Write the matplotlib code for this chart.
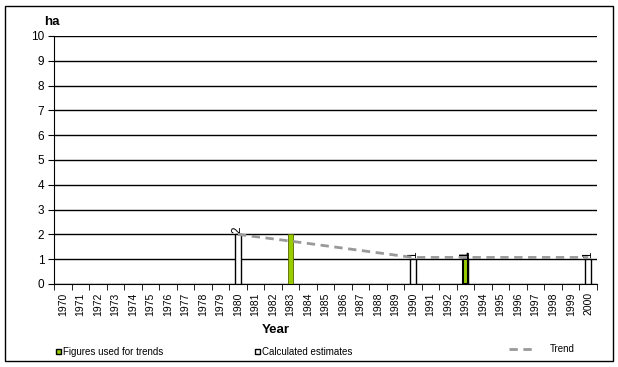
import matplotlib.pyplot as plt
from matplotlib.patches import Patch, Rectangle
from matplotlib.lines import Line2D

plt.rcParams['font.family'] = ['Liberation Sans', 'DejaVu Sans']

years = list(range(1970, 2001))
used_years = [1993, 1983]
used_values = [1, 2]
estimate_years = [1980, 1990, 1993, 2000]
estimate_values = [2, 1, 1, 1]
trend_years = [1980, 1983, 1990, 1993, 2000]
trend_values = [2.0, 1.73, 1.07, 1.07, 1.07]

GREEN = '#99cc00'
GREY = '#999999'


def idx(ys):
    return [years.index(y) for y in ys]


def main():
    fig = plt.figure(figsize=(6.18, 3.67), dpi=100)
    fig.patches.append(Rectangle((5 / 618, 6 / 367), 608 / 618, 355 / 367,
                                 transform=fig.transFigure, fill=False,
                                 edgecolor='black', linewidth=1))
    ax = fig.add_axes([54 / 618, 83 / 367, 543 / 618, 248 / 367])

    ax.set_xlim(-0.5, len(years) - 0.5)
    ax.set_ylim(0, 10)
    ax.set_yticks(range(0, 11))
    ax.yaxis.grid(True, color='black', linewidth=1)
    ax.set_axisbelow(True)
    for s in ['top', 'right']:
        ax.spines[s].set_visible(False)

    # estimates drawn first, green on top
    eb = ax.bar(idx(estimate_years), estimate_values, width=0.32,
                color='white', edgecolor='black', linewidth=1, zorder=3)
    gb = ax.bar(idx(used_years), used_values, width=0.32, color=GREEN,
                edgecolor=['black', '#556600'], linewidth=[1.5, 0.6],
                zorder=4)
    ax.bar_label(eb, rotation=90, padding=1, fontsize=8.5)
    ax.bar_label(gb, labels=[str(used_values[0]), ''], rotation=90,
                 padding=1, fontsize=8.5, fontweight='bold')

    ax.plot(idx(trend_years), trend_values, color=GREY, linestyle='--',
            linewidth=2, dashes=(3, 2), zorder=5)

    ax.set_xticks(range(len(years)))
    ax.set_xticklabels([str(y) for y in years], rotation=90, fontsize=7.5)
    ax.tick_params(axis='x', which='major', length=0, pad=6)
    ax.set_xticks([i - 0.5 for i in range(len(years) + 1)], minor=True)
    ax.tick_params(axis='x', which='minor', length=4, direction='out')
    ax.tick_params(axis='y', labelsize=8.5, length=4, pad=3)

    fig.text(276 / 618, 1 - 330 / 367, 'Year', fontsize=9.5,
             fontweight='bold', ha='center', va='center')
    fig.text(52 / 618, 1 - 22 / 367, 'ha', fontsize=9.5,
             fontweight='bold', ha='center', va='center')

    kw = dict(frameon=False, fontsize=7, handlelength=0.55,
              handleheight=0.55, handletextpad=0.2, borderpad=0,
              borderaxespad=0)
    fig.legend(handles=[Patch(facecolor=GREEN, edgecolor='black',
                              label='Figures used for trends')],
               loc='center left', bbox_to_anchor=(56 / 618, 1 - 352 / 367),
               **kw)
    fig.legend(handles=[Patch(facecolor='white', edgecolor='black',
                              label='Calculated estimates')],
               loc='center left', bbox_to_anchor=(255 / 618, 1 - 352 / 367),
               **kw)
    fig.legend(handles=[Line2D([], [], color=GREY, linestyle='--',
                               linewidth=2, dashes=(3, 2), label='Trend')],
               loc='center left', bbox_to_anchor=(509 / 618, 1 - 349 / 367),
               frameon=False, fontsize=7, handlelength=2.6,
               handletextpad=1.6, borderpad=0, borderaxespad=0)

    fig.savefig('out.png', dpi=100)


if __name__ == '__main__':
    main()
